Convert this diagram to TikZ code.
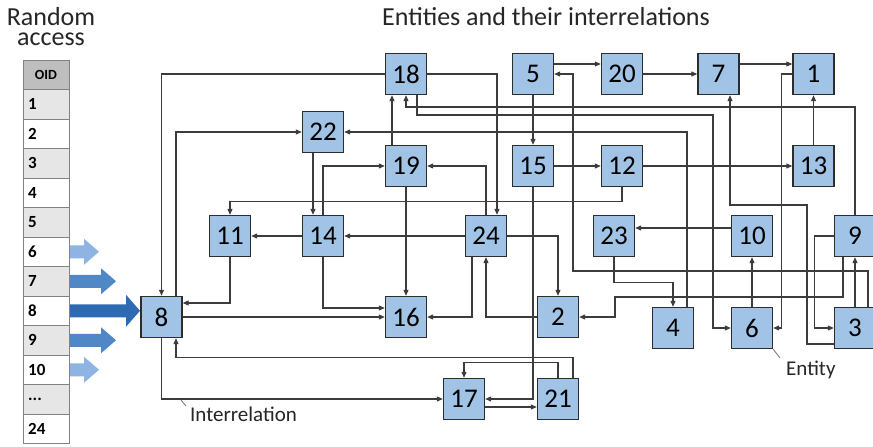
\documentclass[tikz,border=0pt]{standalone}
\usepackage{fontspec}
\setmainfont{Carlito}
\usetikzlibrary{arrows.meta}
\definecolor{boxblue}{RGB}{160,195,230}
\definecolor{boxline}{RGB}{45,45,45}
\definecolor{connline}{RGB}{60,60,60}
\definecolor{tabline}{RGB}{130,130,130}
\definecolor{headgray}{RGB}{190,190,190}
\definecolor{rowgray}{RGB}{230,230,230}
\definecolor{arrLight}{RGB}{141,180,226}
\definecolor{arrMid}{RGB}{79,135,199}
\definecolor{arrDark}{RGB}{46,106,177}
\newcommand\tabdots{...}
% block arrow: #1 centre y, #2 head base x, #3 tip x, #4 head half height, #5 colour
\newcommand\bArrow[5]{%
  \fill[#5] (70,#1-6.5) -- (#2,#1-6.5) -- (#2,#1-#4) -- (#3,#1) -- (#2,#1+#4)
    -- (#2,#1+6.5) -- (70,#1+6.5) -- cycle;}
\begin{document}
\begin{tikzpicture}[x=1pt,y=-1pt,
  entity/.style={draw=boxline, fill=boxblue, line width=1.4pt, minimum size=41pt,
    inner sep=0pt, font=\fontsize{27}{27}\selectfont},
  conn/.style={draw=connline, line width=1.1pt, -{Triangle[length=6pt,width=5pt]}},
  leader/.style={draw=gray, line width=0.9pt},
  title/.style={font=\fontsize{26}{20}\selectfont, text=black!85, inner sep=0pt},
  note/.style={font=\fontsize{21}{21}\selectfont, text=black!85},
  cell/.style={font=\bfseries\fontsize{17}{17}\selectfont}]
\useasboundingbox (0,0) rectangle (873,447);
\fill[white] (0,0) rectangle (873,447);

% titles
\node[title, align=center, anchor=north] (tRandom) at (51,7.5) {Random\\access};
\node[title, anchor=base] (tEnt) at (546,25) {Entities and their interrelations};

% OID table
\foreach \lab [count=\i from 0] in {OID,1,2,3,4,5,6,7,8,9,10,\tabdots,24} {
  \pgfmathsetmacro\ytop{60+29.5*\i}
  \pgfmathsetmacro\ybot{60+29.5*(\i+1)}
  \pgfmathsetmacro\ymid{60+29.5*(\i+0.5)}
  \ifnum\i=0
    \path[draw=tabline, fill=headgray, line width=0.8pt] (23,\ytop) rectangle (69,\ybot);
    \node[font=\bfseries\fontsize{14}{14}\selectfont] (row\i) at (46,\ymid) {\lab};
  \else
    \ifodd\i
      \path[draw=tabline, fill=rowgray, line width=0.8pt] (23,\ytop) rectangle (69,\ybot);
    \else
      \path[draw=tabline, fill=white, line width=0.8pt] (23,\ytop) rectangle (69,\ybot);
    \fi
    \node[cell, anchor=west, inner sep=0pt] (row\i) at (28,\ymid) {\lab};
  \fi
}

% access arrows
\bArrow{251.75}{84}{99}{13}{arrLight}
\bArrow{281.25}{101}{116}{13}{arrMid}
\bArrow{310.75}{126}{140}{16}{arrDark}
\bArrow{340.25}{101}{116}{13}{arrMid}
\bArrow{369.75}{84}{99}{13}{arrLight}

% entities
\node[entity] (n18) at (406,74) {18};
\node[entity] (n5)  at (533,74) {5};
\node[entity] (n20) at (622,74) {20};
\node[entity] (n7)  at (718.5,74) {7};
\node[entity] (n1)  at (813.5,74) {1};
\node[entity] (n22) at (323,132) {22};
\node[entity] (n19) at (406,166) {19};
\node[entity] (n15) at (533,166) {15};
\node[entity] (n12) at (622,166) {12};
\node[entity] (n13) at (813.5,166) {13};
\node[entity] (n11) at (230,236) {11};
\node[entity] (n14) at (323,236) {14};
\node[entity] (n24) at (486,236) {24};
\node[entity] (n23) at (614,236) {23};
\node[entity] (n10) at (752,236) {10};
\node[entity] (n9)  at (855,236) {9};
\node[entity] (n8)  at (161.5,317) {8};
\node[entity] (n16) at (406,317) {16};
\node[entity] (n2)  at (558,317) {2};
\node[entity] (n4)  at (673,328) {4};
\node[entity] (n6)  at (752,328) {6};
\node[entity] (n3)  at (855,328) {3};
\node[entity] (n17) at (464,399) {17};
\node[entity] (n21) at (558,399) {21};

% interrelations
\draw[conn] (n18.west) -| (n8.north);
\draw[conn] ([xshift=14.5pt]n8.north) |- (n22.west);
\draw[conn] ([xshift=-10pt]n22.south) -- ([xshift=-10pt]n14.north);
\draw[conn] (n14.north) |- (n19.west);
\draw[conn] ([xshift=-14pt]n19.north) -- ([xshift=-14pt]n18.south);
\draw[conn] (n9.north) |- (406,107) -- (n18.south);
\draw[conn] ([xshift=11pt]n18.south) |- (713,115) |- (n6.west);
\draw[conn] (n18.east) -| ([xshift=11pt]n24.north);
\draw[conn] (n24.north) |- (n19.east);
\draw[conn] (n12.south) -- ++(0,14) -| (n11.north);
\draw[conn] ([xshift=14pt]n4.north) |- (n22.east);
\draw[conn] (n23.south) -- ++(0,25) -| (n4.north);
\draw[conn] ([yshift=8pt]n10.west) -- ([yshift=8pt]n23.east);
\draw[conn] (n6.north) -- (n10.south);
\draw[conn] (n14.west) -- (n11.east);
\draw[conn] (n24.west) -- (n14.east);
\draw[conn] (n24.east) -| (n2.north);
\draw[conn] (n2.west) -| (n24.south);
\draw[conn] ([xshift=-14pt]n24.south) |- (n16.east);
\draw[conn] (n19.south) -- (n16.north);
\draw[conn] (n14.south) |- ([yshift=9pt]n16.west);
\draw[conn] (n8.east) -- (n16.west);
\draw[conn] (n11.south) |- ([yshift=14pt]n8.east);
\draw[conn] (n8.south) |- (n17.west);
\draw[conn] ([xshift=15pt]n21.north) -- ++(0,-20) -| ([xshift=14.5pt]n8.south);
\draw[conn] (n21.north) -- ++(0,-15) -| (n17.north);
\draw[conn] ([yshift=-8pt]n17.east) -- ([yshift=-8pt]n21.west);
\draw[conn] (n15.south) |- (n17.east);
\draw[conn] (n5.south) -- (n15.north);
\draw[conn] (n15.east) -- (n12.west);
\draw[conn] (n12.east) -- (n13.west);
\draw[conn] (n13.north) -- (n1.south);
\draw[conn] ([yshift=10pt]n5.east) -- ([yshift=10pt]n20.west);
\draw[conn] (n20.east) -- (n7.west);
\draw[conn] ([yshift=10pt]n7.east) -- ([yshift=10pt]n1.west);
\draw[conn] (n1.west) -- ++(-11,0) |- (n6.east);
\draw[conn] ([xshift=13pt]n3.north) |- (573,271) |- (n5.east);
\draw[conn] (n3.north) -- (n9.south);
\draw[conn] (n9.west) -- ++(-19,0) |- (n3.west);
\draw[conn] ([xshift=-12pt]n9.south) |- (615,297) |- (n2.east);
\draw[conn] ([yshift=-16pt]n3.west) -| (807,205) -| ([xshift=11.5pt]n7.south);

% labels
\draw[leader] (181,400) -- (186,406);
\node[note, anchor=base west, inner sep=0pt] (lInter) at (190,421) {Interrelation};
\draw[leader] (n6.south east) -- (780,358);
\node[note, anchor=base west, inner sep=0pt] (lEntity) at (786,375) {Entity};
\end{tikzpicture}
\end{document}
